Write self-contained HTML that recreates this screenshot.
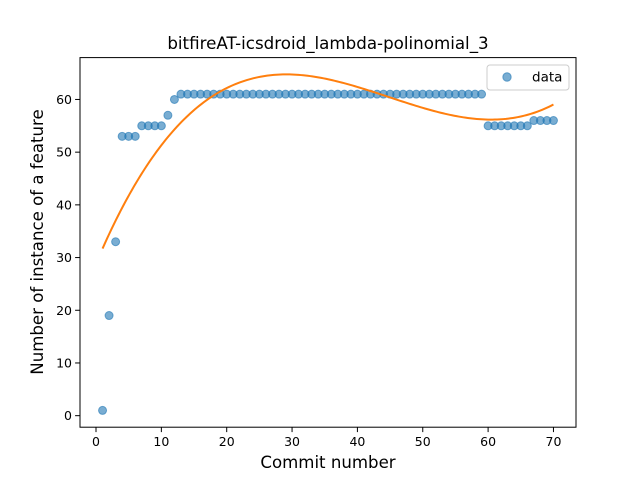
<!DOCTYPE html>
<html><head><meta charset="utf-8"><style>
body{margin:0;background:#fff}
svg{font-family:"DejaVu Sans","Liberation Sans",sans-serif}
</style></head><body>
<svg id="chart" width="640" height="480" viewBox="0 0 640 480">
<rect width="640" height="480" fill="#fff"/>
<text x="328" y="49" text-anchor="middle" font-size="16.7">bitfireAT-icsdroid_lambda-polinomial_3</text>
<g id="plot"></g>
<rect x="80" y="57.6" width="496" height="369.6" fill="none" stroke="#000" stroke-width="1"/>
<text x="328" y="468" text-anchor="middle" font-size="16.6">Commit number</text>
<text transform="translate(43,242) rotate(-90)" text-anchor="middle" font-size="16.6">Number of instance of a feature</text>
<g>
<rect x="487" y="65" width="82" height="25" rx="3" fill="#fff" stroke="#ccc"/>
<circle cx="507" cy="77" r="4.2" fill="#1f77b4" fill-opacity="0.6" stroke="#1f77b4" stroke-opacity="0.6"/>
<text x="532" y="81.5" font-size="13.5">data</text>
</g>
</svg>
<script>
const xs = [];
for (let i = 1; i <= 70; i++) xs.push(i);
const ys = [1,19,33,53,53,53,55,55,55,55,57,60,
61,61,61,61,61,61,61,61,61,61,61,61,61,61,61,61,61,61,61,61,61,61,61,61,61,61,61,61,61,61,61,61,61,61,61,61,61,61,61,61,61,61,61,61,61,61,61,
55,55,55,55,55,55,55,56,56,56,56];
const xTicks = [0,10,20,30,40,50,60,70];
const yTicks = [0,10,20,30,40,50,60];

const NS = "http://www.w3.org/2000/svg";
const g = document.getElementById("plot");
const X0=80,X1=576,Y0=427.2,Y1=57.6;
function fit(deg){
  const n=deg+1, A=[], b=[];
  for(let i=0;i<n;i++){A.push(new Array(n).fill(0));b.push(0);}
  xs.forEach((x,k)=>{for(let i=0;i<n;i++){b[i]+=Math.pow(x,i)*ys[k];for(let j=0;j<n;j++)A[i][j]+=Math.pow(x,i+j);}});
  for(let i=0;i<n;i++){let p=i;for(let r=i+1;r<n;r++)if(Math.abs(A[r][i])>Math.abs(A[p][i]))p=r;
    [A[i],A[p]]=[A[p],A[i]];[b[i],b[p]]=[b[p],b[i]];
    for(let r=0;r<n;r++){if(r===i)continue;const f=A[r][i]/A[i][i];for(let c=i;c<n;c++)A[r][c]-=f*A[i][c];b[r]-=f*b[i];}}
  return b.map((v,i)=>v/A[i][i]);
}
const coef=fit(3);
const poly=x=>coef.reduce((s,c,i)=>s+c*Math.pow(x,i),0);
const xmin=Math.min(...xs),xmax=Math.max(...xs);
const curveX=[],curveY=[];
for(let i=0;i<=200;i++){const x=xmin+(xmax-xmin)*i/200;curveX.push(x);curveY.push(poly(x));}
const allY=ys.concat(curveY);
const ymin=Math.min(...allY),ymax=Math.max(...allY);
const xd=[xmin-(xmax-xmin)*0.05,xmax+(xmax-xmin)*0.05];
const yd=[ymin-(ymax-ymin)*0.05,ymax+(ymax-ymin)*0.05];
const sx=v=>X0+(v-xd[0])/(xd[1]-xd[0])*(X1-X0);
const sy=v=>Y0-(v-yd[0])/(yd[1]-yd[0])*(Y0-Y1);
function el(t,a){const e=document.createElementNS(NS,t);for(const k in a)e.setAttribute(k,a[k]);g.appendChild(e);return e;}
xTicks.forEach(t=>{
  const l=el("line",{x1:sx(t),x2:sx(t),y1:Y0,y2:Y0+4.9,stroke:"#000"});
  
  
  const tx=el("text",{x:sx(t),y:Y0+19,"text-anchor":"middle","font-size":"12.5"});tx.textContent=t;
  
  
});
yTicks.forEach(t=>{
  const l=el("line",{x1:X0-4.9,x2:X0,y1:sy(t),y2:sy(t),stroke:"#000"});
  
  
  const tx=el("text",{x:X0-8,y:sy(t)+4.5,"text-anchor":"end","font-size":"12.5"});tx.textContent=t;
  
  
});
xs.forEach((x,i)=>{
  const c=el("circle",{cx:sx(x),cy:sy(ys[i]),r:4,fill:"#1f77b4","fill-opacity":0.6,stroke:"#1f77b4","stroke-opacity":0.6});
  
  
});
const p=el("path",{d:curveX.map((x,i)=>(i?"L":"M")+sx(x).toFixed(2)+","+sy(curveY[i]).toFixed(2)).join(""),fill:"none",stroke:"#ff7f0e","stroke-width":2});


</script>
</body></html>
